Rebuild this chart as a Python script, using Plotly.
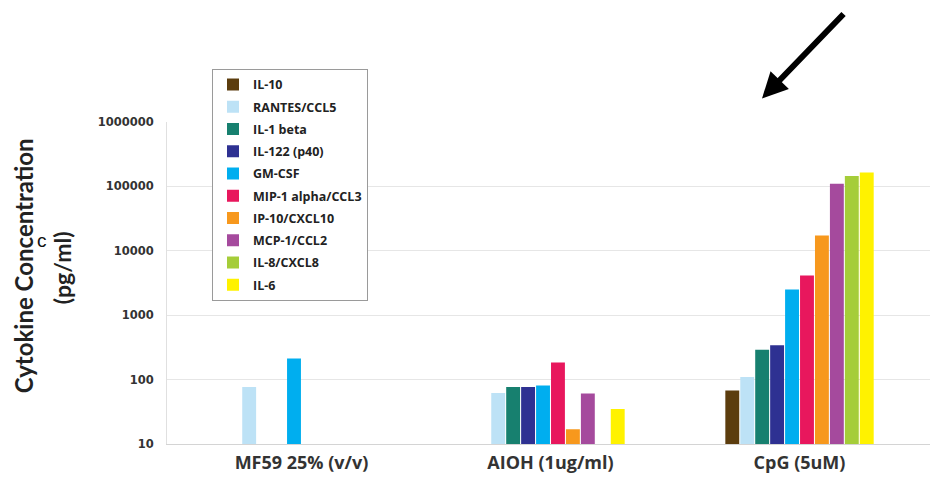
import plotly.graph_objects as go

categories = ["MF59 25% (v/v)", "AIOH (1ug/ml)", "CpG (5uM)"]
series_names = ["IL-10", "RANTES/CCL5", "IL-1 beta", "IL-122 (p40)", "GM-CSF",
                "MIP-1 alpha/CCL3", "IP-10/CXCL10", "MCP-1/CCL2", "IL-8/CXCL8", "IL-6"]
il10 = [None, None, 68]
rantes = [77, 62, 110]
il1beta = [None, 77, 290]
il12 = [None, 77, 340]
gmcsf = [212, 81, 2500]
mip1 = [None, 185, 4150]
ip10 = [None, 17, 17300]
mcp1 = [None, 61, 110000]
il8 = [None, None, 145000]
il6 = [None, 35, 164000]
series_values = [il10, rantes, il1beta, il12, gmcsf, mip1, ip10, mcp1, il8, il6]
colors = ["#5c3d0e", "#bde2f6", "#17806f", "#2e3192", "#00aeef",
          "#e8175d", "#f7981d", "#a54a9d", "#a5cd39", "#fff200"]
ytick_vals = [10, 100, 1000, 10000, 100000, 1000000]
ytick_text = ["10", "100", "1000", "10000", "100000", "1000000"]

W, H = 930, 484
ml, mr, mt, mb = 167, 0, 121.5, 40
pw = W - ml - mr
ph = H - mt - mb

def px(x):
    return (x - ml) / pw

def py(y):
    return (H - mb - y) / ph

fig = go.Figure()
for i, (name, vals, col) in enumerate(zip(series_names, series_values, colors)):
    fig.add_trace(go.Bar(
        x=categories, y=vals, name=name,
        marker=dict(color=col, line=dict(width=0)),
        legendgroup=f"g{i}",
    ))

fig.update_layout(
    width=W, height=H,
    margin=dict(l=ml, r=mr, t=mt, b=mb, autoexpand=False),
    paper_bgcolor="white", plot_bgcolor="white",
    barmode="group", bargap=0.4, bargroupgap=0.07,
    showlegend=True,
    legend=dict(
        x=px(212), y=py(68.3), xanchor="left", yanchor="top",
        bgcolor="white", bordercolor="#9a9a9a", borderwidth=1,
        font=dict(family="Open Sans", size=12.5, color="#222", weight=700),
        tracegroupgap=3, itemclick=False,
    ),
    xaxis=dict(
        type="category", range=[-0.54, 2.524],
        showgrid=False, showline=True, linecolor="#d4d4d4", linewidth=1,
        ticks="", tickfont=dict(family="Open Sans", size=18, color="#333", weight=700),
        ticklabelstandoff=2,
    ),
    yaxis=dict(
        type="log", range=[1, 6],
        tickvals=ytick_vals, ticktext=ytick_text,
        showgrid=True, gridcolor="#e6e6e6", gridwidth=1,
        showline=True, linecolor="#e0e0e0", linewidth=1,
        zeroline=False, ticks="",
        tickfont=dict(family="DejaVu Sans", size=11.5, color="#333", weight="bold"),
        ticklabelstandoff=10,
    ),
    annotations=[
        dict(text="Cytokine Concentration", textangle=-90,
             x=px(23), y=py(266), xref="paper", yref="paper",
             xanchor="center", yanchor="middle", showarrow=False,
             font=dict(family="Lato", size=24, color="#222", weight="bold")),
        dict(text="(pg/ml)", textangle=-90,
             x=px(62), y=py(268), xref="paper", yref="paper",
             xanchor="center", yanchor="middle", showarrow=False,
             font=dict(family="Lato", size=23, color="#222", weight="bold")),
        dict(text="c", x=px(42), y=py(240), xref="paper", yref="paper",
             xanchor="center", yanchor="middle", showarrow=False,
             font=dict(family="Liberation Sans", size=19, color="#111")),
        dict(text="", x=px(762), y=py(98), xref="paper", yref="paper",
             showarrow=True, ax=83, ay=-86, arrowhead=2, arrowsize=0.85,
             arrowwidth=6, arrowcolor="#000", standoff=0),
    ],
)

fig.write_html("out.html", config={"displayModeBar": False},
               post_script="document.body.style.margin='0';")
